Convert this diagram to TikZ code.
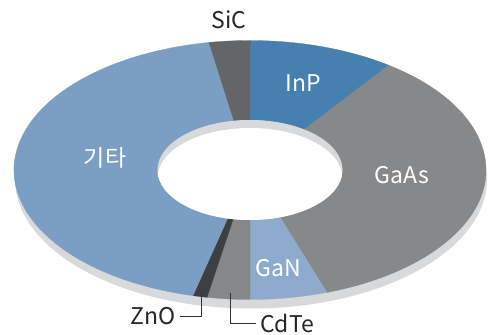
\documentclass[tikz,border=0pt]{standalone}
\usepackage{fontspec}
\newfontfamily\krfont{Noto Sans CJK KR}
\usetikzlibrary{calc}
\definecolor{inpblue}{HTML}{4680B0}
\definecolor{gaasgray}{HTML}{87888A}
\definecolor{ganblue}{HTML}{8EABCE}
\definecolor{cdtegray}{HTML}{868789}
\definecolor{znodark}{HTML}{3E3F41}
\definecolor{etcblue}{HTML}{7A9EC4}
\definecolor{sicgray}{HTML}{646567}
\definecolor{sidegray}{HTML}{D8D9DB}
\tikzset{
   donut/.style={x=1pt, y=1pt},
   slice/.style={fill=#1, draw=#1, line width=0.3pt},
   side/.style={fill=sidegray},
   in label/.style={font=\krfont\fontsize{23}{23}\selectfont, text=white, inner sep=0pt},
   out label/.style={font=\krfont\fontsize{23}{23}\selectfont, text=black!85, inner sep=0pt},
   leader/.style={draw=black!80, line width=0.8pt}
}
\begin{document}
\begin{tikzpicture}[donut]
    \useasboundingbox (0,0) rectangle (491,335);
    \coordinate (cen) at (250,165);

    % side of the ring, seen below the top face
    \fill[side] ($(cen)+(1,-9)$) ellipse[x radius=236, y radius=129.5];

    % ring slices: start/end angle/colour
    \foreach \a/\b/\c in {90/54/inpblue, 54/-71/gaasgray, -71/-90/ganblue,
                          -90/-100.5/cdtegray, -100.5/-104/znodark,
                          -104/-260/etcblue, 100/90/sicgray}{
       \path[slice=\c]
          ($(cen)+({236*cos(\a)},{129.5*sin(\a)})$)
          arc[start angle=\a, end angle=\b, x radius=236, y radius=129.5]
          -- ($(cen)+({92.5*cos(\b)},{50*sin(\b)})$)
          arc[start angle=\b, end angle=\a, x radius=92.5, y radius=50]
          -- cycle;
    }

    % hole: far inner wall and the opening
    \fill[side] (cen) ellipse[x radius=92.5, y radius=50];
    \begin{scope}
       \clip (cen) ellipse[x radius=92.5, y radius=50];
       \fill[white] ($(cen)+(0,-8)$) ellipse[x radius=92.5, y radius=50];
    \end{scope}

    % labels on the slices
    \node[in label] (inp) at (303,252) {InP};
    \node[in label] (gaas) at (402,160) {GaAs};
    \node[in label] (gan) at (278,67) {GaN};
    \node[in label] (etc) at (105,177) {기타};

    % labels outside
    \node[out label] (sic) at (229,315) {SiC};
    \node[out label, anchor=east] (zno) at (176,19) {ZnO};
    \node[out label, anchor=west] (cdte) at (260,12) {CdTe};

    % leaders
    \coordinate (znotip) at (201,42);
    \coordinate (cdtetip) at (230,42);
    \draw[leader] (znotip) |- ($(zno.east)+(4,0)$);
    \draw[leader] (cdtetip) |- ($(cdte.west)+(-4,0)$);
\end{tikzpicture}
\end{document}
